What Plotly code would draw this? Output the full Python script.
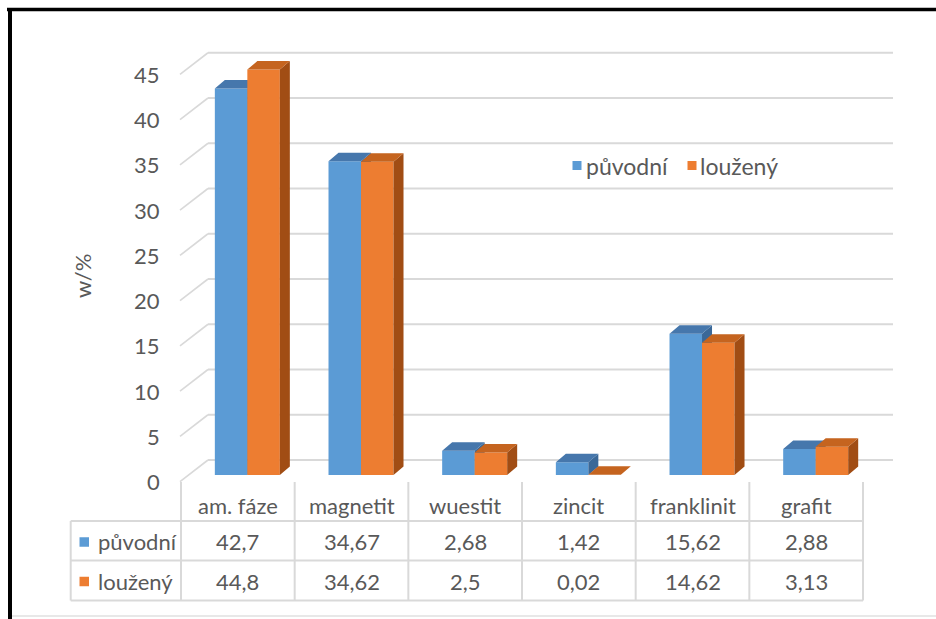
import plotly.graph_objects as go

# ---- data -------------------------------------------------------------
categories = ["am. fáze", "magnetit", "wuestit", "zincit", "franklinit", "grafit"]
puvodni = [42.7, 34.67, 2.68, 1.42, 15.62, 2.88]
louzeny = [44.8, 34.62, 2.5, 0.02, 14.62, 3.13]
series_names = ["původní", "loužený"]
y_ticks = [0, 5, 10, 15, 20, 25, 30, 35, 40, 45]
axis_title = "w/%"

# ---- colours ----------------------------------------------------------
FRONT = ["#5B9BD5", "#ED7D31"]
TOP = ["#4677AC", "#C5641F"]
SIDE = ["#3A6898", "#A14D14"]
GRID = "#D9D9D9"
TEXT = "#595959"
FONT = "Lato"
FS = 22

# ---- pixel geometry of the canvas --------------------------------------
W, H = 936, 619
COL = 113.67      # pixels per category column
X0 = 181.0        # pixel of the left edge of the first column
PPU = 9.05        # pixels per value unit
Y0 = 475.0        # pixel of the value 0 on the bar front plane


def gx(p):
    return (p - X0) / COL


def gy(p):
    return (Y0 - p) / PPU


BAR_W = 32.5 / COL           # width of one bar
BAR_SHIFT = 9.5 / COL        # pair centre relative to the column centre
DEPTH_X = 10.0 / COL         # bar depth, horizontal component
DEPTH_Y = 8.5 / PPU          # bar depth, vertical component
BACK_Y = 15.0 / PPU          # back wall raised above the bar plane
FRONT_Y = -6.7 / PPU         # front edge of the floor below the bar plane


def faces(values, series_idx):
    """Front, side and top polygons of the 3-D columns of one series."""
    front, side, top = ([], []), ([], []), ([], [])
    for i, v in enumerate(values):
        centre = i + 0.5 + BAR_SHIFT
        left = centre - BAR_W if series_idx == 0 else centre
        right = left + BAR_W
        fx = [left, right, right, left, left, None]
        fy = [0, 0, v, v, 0, None]
        sx = [right, right + DEPTH_X, right + DEPTH_X, right, right, None]
        sy = [0, DEPTH_Y, v + DEPTH_Y, v, 0, None]
        tx = [left, right, right + DEPTH_X, left + DEPTH_X, left, None]
        ty = [v, v, v + DEPTH_Y, v + DEPTH_Y, v, None]
        for dst, xs, ys in ((front, fx, fy), (side, sx, sy), (top, tx, ty)):
            dst[0].extend(xs)
            dst[1].extend(ys)
    return front, side, top


fig = go.Figure()

for s, vals in enumerate([puvodni, louzeny]):
    f, sd, tp = faces(vals, s)
    for (xs, ys), col in ((f, FRONT[s]), (sd, SIDE[s]), (tp, TOP[s])):
        fig.add_trace(go.Scatter(
            x=xs, y=ys, mode="lines", fill="toself", fillcolor=col,
            line=dict(width=0, color=col), hoverinfo="skip",
            name=series_names[s], showlegend=False))

shapes = []
annotations = []

# back-wall gridlines with their slanted ticks on the side wall
diag_x0, diag_x1 = gx(180), gx(208)
grid_right = gx(893)
for t in y_ticks:
    shapes.append(dict(type="line", xref="x", yref="y", layer="below",
                       x0=diag_x0, y0=t + FRONT_Y, x1=diag_x1, y1=t + BACK_Y,
                       line=dict(color=GRID, width=1.6)))
    shapes.append(dict(type="line", xref="x", yref="y", layer="below",
                       x0=diag_x1, y0=t + BACK_Y, x1=grid_right, y1=t + BACK_Y,
                       line=dict(color=GRID, width=2)))
    annotations.append(dict(xref="x", yref="y", x=gx(162), y=t + FRONT_Y,
                            text=str(t), showarrow=False, xanchor="right",
                            yanchor="middle",
                            font=dict(family=FONT, size=FS, color=TEXT)))

annotations.append(dict(xref="x", yref="y", x=gx(82), y=gy(276),
                        text=axis_title, showarrow=False, textangle=-90,
                        font=dict(family=FONT, size=FS, color=TEXT)))

# ---- data table under the plot ----------------------------------------
tbl_left, tbl_right = gx(70.7), float(len(categories))
row_lines = [gy(521), gy(560.5), gy(600.5)]
for yl in row_lines:
    shapes.append(dict(type="line", xref="x", yref="y", layer="below",
                       x0=tbl_left, y0=yl, x1=tbl_right, y1=yl,
                       line=dict(color=GRID, width=2)))
shapes.append(dict(type="line", xref="x", yref="y", layer="below",
                   x0=tbl_left, y0=row_lines[0], x1=tbl_left, y1=row_lines[-1],
                   line=dict(color=GRID, width=2)))
for k in range(len(categories) + 1):
    shapes.append(dict(type="line", xref="x", yref="y", layer="below",
                       x0=k, y0=gy(482), x1=k, y1=row_lines[-1],
                       line=dict(color=GRID, width=2)))

header_y = gy(505)
row_y = [gy(541.5), gy(581.5)]
for i, name in enumerate(categories):
    annotations.append(dict(xref="x", yref="y", x=i + 0.5, y=header_y,
                            text=name, showarrow=False,
                            font=dict(family=FONT, size=FS, color=TEXT)))
    for r, vals in enumerate([puvodni, louzeny]):
        annotations.append(dict(xref="x", yref="y", x=i + 0.5, y=row_y[r],
                                text=str(vals[i]).replace(".", ","),
                                showarrow=False,
                                font=dict(family=FONT, size=FS, color=TEXT)))

SQ = 9.5
for r, name in enumerate(series_names):
    cy = 542 + 39.5 * r
    shapes.append(dict(type="rect", xref="x", yref="y", layer="above",
                       x0=gx(79.5), x1=gx(79.5 + SQ),
                       y0=gy(cy - SQ / 2), y1=gy(cy + SQ / 2),
                       fillcolor=FRONT[r], line=dict(width=0)))
    annotations.append(dict(xref="x", yref="y", x=gx(96), y=row_y[r],
                            text=name, showarrow=False, xanchor="left",
                            font=dict(family=FONT, size=FS, color=TEXT)))

# ---- legend -----------------------------------------------------------
legend_pos = [(572.5, 584), (687.5, 698)]
for r, name in enumerate(series_names):
    sqx, txx = legend_pos[r]
    shapes.append(dict(type="rect", xref="x", yref="y", layer="above",
                       x0=gx(sqx), x1=gx(sqx + 9), y0=gy(170), y1=gy(161),
                       fillcolor=FRONT[r], line=dict(width=0)))
    annotations.append(dict(xref="x", yref="y", x=gx(txx), y=gy(166),
                            text=name, showarrow=False, xanchor="left",
                            font=dict(family=FONT, size=FS + 1, color=TEXT)))

# ---- chart frame ------------------------------------------------------
shapes.append(dict(type="line", xref="x", yref="y", layer="above",
                   x0=gx(7), y0=gy(9.5), x1=gx(W), y1=gy(9.5),
                   line=dict(color="black", width=3.5)))
shapes.append(dict(type="line", xref="x", yref="y", layer="above",
                   x0=gx(10), y0=gy(8), x1=gx(10), y1=gy(H),
                   line=dict(color="black", width=4)))
shapes.append(dict(type="line", xref="x", yref="y", layer="below",
                   x0=gx(12), y0=gy(616), x1=gx(W), y1=gy(616),
                   line=dict(color="#E8E8E8", width=2)))

fig.update_layout(
    width=W, height=H,
    margin=dict(l=0, r=0, t=0, b=0),
    paper_bgcolor="white", plot_bgcolor="white",
    showlegend=False,
    xaxis=dict(range=[gx(0), gx(W)], visible=False, fixedrange=True),
    yaxis=dict(range=[gy(H), gy(0)], visible=False, fixedrange=True),
    shapes=shapes, annotations=annotations,
)

fig.write_html("out.html")
